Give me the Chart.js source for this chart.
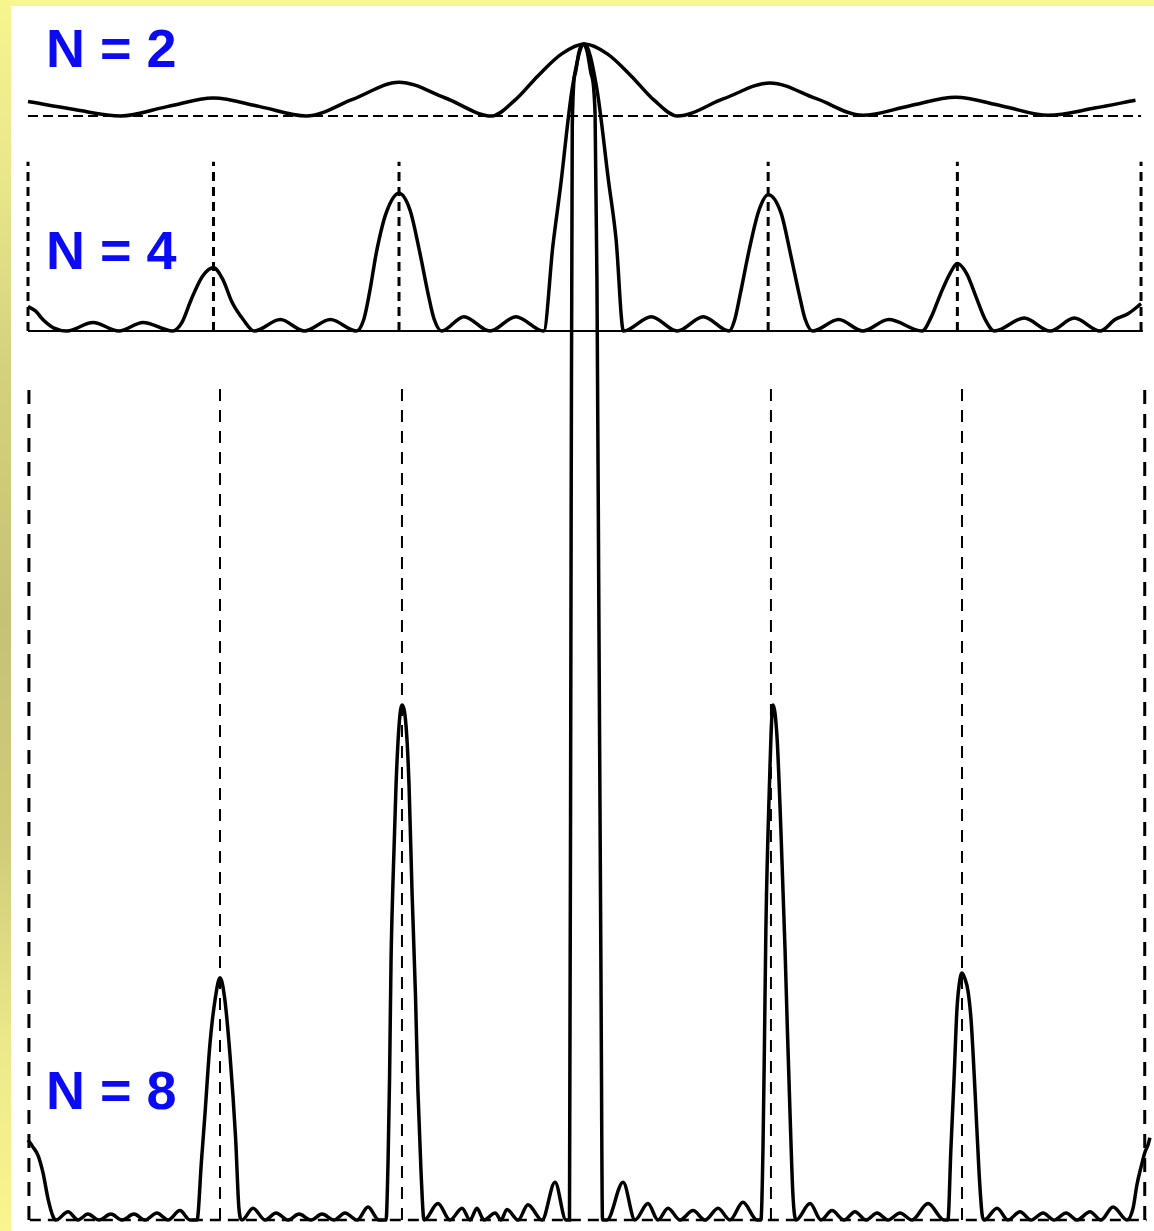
<!DOCTYPE html>
<html>
<head>
<meta charset="utf-8">
<script src="https://cdn.jsdelivr.net/npm/chart.js@4.4.1/dist/chart.umd.min.js"></script>
<style>
  html, body { margin: 0; padding: 0; }
  body { width: 1154px; height: 1231px; position: relative; overflow: hidden; background: #f8f68e; }
  #edge { position: absolute; left: 0; top: 0; width: 11px; height: 1231px;
    background: linear-gradient(to bottom, #f7f58d 0%, #e8e68a 15%, #d4d17e 30%, #c6c274 50%, #cfcb7a 68%, #ece98a 85%, #f9f68e 100%); }
  #sheet { position: absolute; left: 11px; top: 6px; right: 0; bottom: 0; background: #fff; }
  #c { position: absolute; left: 0; top: 0; }
  .lbl { position: absolute; left: 46px; font: bold 54px "Liberation Sans", Arial, sans-serif; line-height: 54px; color: #0a0af5; white-space: nowrap; }
</style>
</head>
<body>
<div id="edge"></div>
<div id="sheet"></div>
<canvas id="c" width="1154" height="1231"></canvas>
<div class="lbl" style="top:21px">N = 2</div>
<div class="lbl" style="top:223px">N = 4</div>
<div class="lbl" style="top:1063px">N = 8</div>
<script>
/* Grating intensity vs order m for N = 2, 4, 8 slits (each normalised to central max = 1) */

// N = 2
const n2M = [-3.0, -2.75, -2.5, -2.25, -2.0, -1.75, -1.5, -1.25, -1.0, -0.75, -0.5, -0.375, -0.25, -0.125, 0, 0.125, 0.25, 0.375, 0.5, 0.75, 1.0, 1.25, 1.5, 1.75, 2.0, 2.25, 2.5, 2.75, 2.97];
const n2I = [0.2, 0.09, 0.0, 0.13, 0.25, 0.13, 0.0, 0.23, 0.47, 0.25, 0.0, 0.22, 0.56, 0.86, 1.0, 0.86, 0.56, 0.22, 0.0, 0.24, 0.46, 0.24, 0.01, 0.14, 0.26, 0.14, 0.01, 0.11, 0.22];

// N = 4
const n4M = [-3.0, -2.96, -2.92, -2.86, -2.79, -2.65, -2.51, -2.38, -2.22, -2.17, -2.12, -2.06, -2.0, -1.95, -1.9, -1.84, -1.78,
  -1.64, -1.51, -1.37, -1.23, -1.19, -1.16, -1.12, -1.07, -1.0, -0.94, -0.89, -0.84, -0.81, -0.77,
  -0.65, -0.51, -0.37, -0.22, -0.17, -0.13, -0.065, 0, 0.065, 0.13, 0.17, 0.21,
  0.36, 0.5, 0.64, 0.78, 0.81, 0.84, 0.89, 0.94, 0.99, 1.06, 1.11, 1.16, 1.19, 1.23,
  1.37, 1.5, 1.64, 1.82, 1.87, 1.92, 1.97, 2.01, 2.06, 2.11, 2.16, 2.21, 2.37, 2.51, 2.64, 2.78, 2.86, 2.93, 3.0];
const n4I = [0.085, 0.07, 0.04, 0.01, 0, 0.03, 0, 0.03, 0, 0.03, 0.11, 0.19, 0.22, 0.18, 0.1, 0.04, 0,
  0.04, 0, 0.04, 0, 0.04, 0.13, 0.28, 0.41, 0.48, 0.42, 0.28, 0.12, 0.04, 0,
  0.05, 0, 0.05, 0, 0.3, 0.5, 0.85, 1.0, 0.85, 0.52, 0.32, 0,
  0.05, 0, 0.05, 0, 0.04, 0.13, 0.29, 0.42, 0.475, 0.41, 0.27, 0.12, 0.04, 0,
  0.04, 0, 0.04, 0, 0.05, 0.13, 0.2, 0.235, 0.2, 0.12, 0.04, 0, 0.045, 0, 0.045, 0, 0.04, 0.06, 0.095];

// N = 8
const n8M = [-3.0, -2.973, -2.946, -2.919, -2.892, -2.865, -2.849, -2.784, -2.73, -2.677, -2.617, -2.553, -2.493, -2.429, -2.369, -2.305, -2.245, -2.181, -2.127,
  -2.089, -2.065, -2.046, -2.019, -1.989, -1.965, -1.941, -1.911, -1.881, -1.863, -1.846,
  -1.787, -1.722, -1.663, -1.598, -1.539, -1.474, -1.415, -1.35, -1.291, -1.226, -1.167, -1.108,
  -1.07, -1.059, -1.051, -1.043, -1.032, -1.016, -1.0, -0.984, -0.962, -0.946, -0.93, -0.911, -0.898, -0.881, -0.865,
  -0.79, -0.725, -0.66, -0.617, -0.58, -0.542, -0.482, -0.45, -0.418, -0.358, -0.305, -0.229, -0.159, -0.1,
  -0.081, -0.072, -0.066, -0.05, -0.03, -0.008, 0.015, 0.035, 0.057, 0.067, 0.078, 0.089, 0.097,
  0.121, 0.208, 0.272, 0.342, 0.396, 0.45, 0.515, 0.585, 0.65, 0.72, 0.784, 0.854, 0.93,
  0.951, 0.962, 0.97, 0.978, 0.995, 1.016, 1.038, 1.059, 1.081, 1.094, 1.108, 1.124, 1.14,
  1.216, 1.275, 1.334, 1.399, 1.458, 1.518, 1.577, 1.636, 1.701, 1.765, 1.852, 1.938,
  1.959, 1.975, 1.992, 2.008, 2.024, 2.035, 2.051, 2.067, 2.084, 2.105, 2.127, 2.143, 2.154,
  2.224, 2.283, 2.348, 2.407, 2.472, 2.531, 2.596, 2.655, 2.725, 2.784, 2.849, 2.925,
  2.957, 2.978, 3.0, 3.022, 3.038, 3.048];
const n8I = [0.068, 0.062, 0.055, 0.04, 0.018, 0.003, 0, 0.007, 0, 0.005, 0, 0.005, 0, 0.005, 0, 0.006, 0, 0.008, 0,
  0, 0.05, 0.09, 0.15, 0.19, 0.206, 0.19, 0.14, 0.07, 0.01, 0,
  0.01, 0, 0.006, 0, 0.005, 0, 0.005, 0, 0.006, 0, 0.011, 0,
  0, 0.05, 0.12, 0.22, 0.29, 0.37, 0.42, 0.438, 0.42, 0.37, 0.28, 0.19, 0.11, 0.04, 0,
  0.014, 0, 0.01, 0, 0.01, 0, 0.006, 0, 0.009, 0, 0.013, 0, 0.032, 0,
  0, 0.6, 0.93, 0.975, 0.993, 1.0, 0.993, 0.975, 0.94, 0.8, 0.5, 0.2, 0,
  0, 0.032, 0, 0.014, 0, 0.01, 0, 0.008, 0, 0.01, 0, 0.015, 0,
  0, 0.06, 0.15, 0.25, 0.36, 0.438, 0.41, 0.33, 0.23, 0.16, 0.09, 0.02, 0,
  0.014, 0, 0.008, 0, 0.007, 0, 0.006, 0, 0.006, 0, 0.014, 0,
  0, 0.06, 0.12, 0.18, 0.205, 0.21, 0.205, 0.195, 0.17, 0.11, 0.04, 0.005, 0,
  0.01, 0, 0.007, 0, 0.006, 0, 0.006, 0, 0.007, 0, 0.011, 0,
  0.01, 0.03, 0.045, 0.058, 0.064, 0.07];

// dashed guide lines at the principal maxima (order m) and their height
const n4Guides = [-3.0, -2.0, -1.0, 0.99, 2.01, 3.0];
const n4GuideTop = 0.59;
const n8GuidesEdge = [-2.995, 3.02];
const n8GuidesInner = [-1.965, -0.984, 1.005, 2.035];
const n8GuideTop = 0.713;

// baseline extents (order m)
const n2Base = [-3.0, 3.0];
const n4Base = [-3.0, 3.01];
const n8Base = [-2.99, 3.03];

/* ---- layout: all three panels share the top (central max) and differ in baseline ---- */
const W = 1154, H = 1231, TOP = 44, BOTTOM = 1220;
const BASELINE = { y2: 116, y4: 331, y8: 1220 };
const X_MIN = -3.0, X_MAX = 3.05, LEFT = 28, RIGHT = 1150.3;
const axisMin = (b) => 1 - (BOTTOM - TOP) / (b - TOP);

const pts = (xs, ys) => xs.map((x, i) => ({ x, y: ys[i] }));
const guides = (ms, top) => ms.flatMap((m) => [{ x: m, y: 0 }, { x: m, y: top }, { x: m, y: null }]);
const base = (r) => [{ x: r[0], y: 0 }, { x: r[1], y: 0 }];
const K = "#000";
const curve = (data, axis, w) => ({ data, yAxisID: axis, borderColor: K, borderWidth: w, showLine: true, pointRadius: 0, cubicInterpolationMode: "monotone", clip: false });
const line = (data, axis, w, dash) => ({ data, yAxisID: axis, borderColor: K, borderWidth: w, borderDash: dash || [], showLine: true, pointRadius: 0, tension: 0, spanGaps: false, clip: false });

new Chart(document.getElementById("c"), {
  type: "scatter",
  data: { datasets: [
    curve(pts(n2M, n2I), "y2", 3.5),
    line(base(n2Base), "y2", 2, [10, 5]),
    curve(pts(n4M, n4I), "y4", 3.5),
    line(base(n4Base), "y4", 2),
    line(guides(n4Guides, n4GuideTop), "y4", 3, [9, 6]),
    curve(pts(n8M, n8I), "y8", 3.5),
    line(base(n8Base), "y8", 2.5, [11, 7]),
    line(guides(n8GuidesEdge, n8GuideTop), "y8", 3, [14, 10]),
    line(guides(n8GuidesInner, n8GuideTop), "y8", 2, [12, 9]),
  ] },
  options: {
    responsive: false, animation: false, devicePixelRatio: 1,
    layout: { padding: { left: LEFT, right: W - RIGHT, top: TOP, bottom: H - BOTTOM } },
    plugins: { legend: { display: false }, tooltip: { enabled: false } },
    events: [],
    scales: {
      x: { type: "linear", min: X_MIN, max: X_MAX, display: false },
      y2: { type: "linear", axis: "y", min: axisMin(BASELINE.y2), max: 1, display: false },
      y4: { type: "linear", axis: "y", min: axisMin(BASELINE.y4), max: 1, display: false },
      y8: { type: "linear", axis: "y", min: axisMin(BASELINE.y8), max: 1, display: false },
    },
  },
});
</script>
</body>
</html>
